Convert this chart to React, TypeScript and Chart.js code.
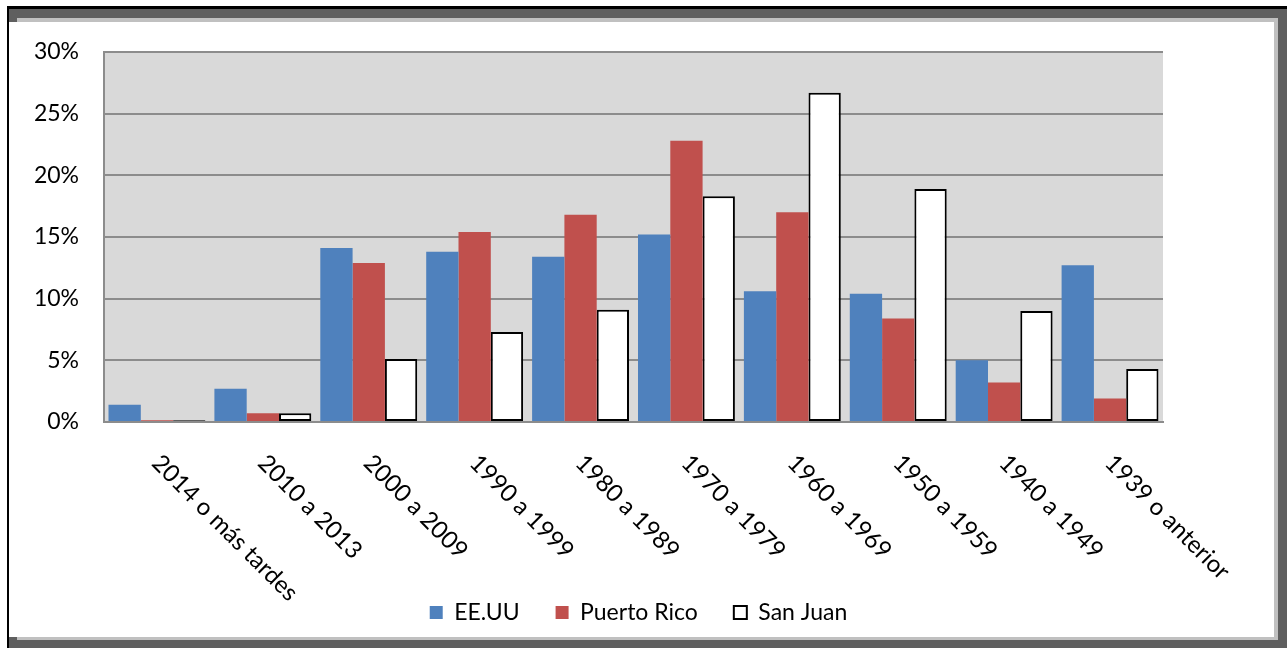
import React, { useEffect, useRef } from "react";
import { Chart, registerables } from "chart.js";

Chart.register(...registerables);

const categories = [
  "2014 o más tardes",
  "2010 a 2013",
  "2000 a 2009",
  "1990 a 1999",
  "1980 a 1989",
  "1970 a 1979",
  "1960 a 1969",
  "1950 a 1959",
  "1940 a 1949",
  "1939 o anterior",
];
const eeuu = [1.4, 2.7, 14.1, 13.8, 13.4, 15.2, 10.6, 10.4, 5.0, 12.7];
const puertoRico = [0.15, 0.7, 12.9, 15.4, 16.8, 22.8, 17.0, 8.4, 3.2, 1.9];
const sanJuan = [0.15, 0.7, 5.1, 7.3, 9.1, 18.3, 26.7, 18.9, 9.0, 4.3];
const seriesNames = ["EE.UU", "Puerto Rico", "San Juan"];

const FONT = "Lato, 'Open Sans', sans-serif";
const FS = 23;
const FS_X = 24;

const plotBg = {
  id: "plotBg",
  beforeDraw(chart: any) {
    const { ctx, chartArea } = chart;
    ctx.save();
    ctx.fillStyle = "#d9d9d9";
    ctx.fillRect(chartArea.left, chartArea.top, chartArea.right - chartArea.left, chartArea.bottom - chartArea.top);
    ctx.restore();
  },
};

const rotatedLabels = {
  id: "rotatedLabels",
  afterDraw(chart: any) {
    const { ctx } = chart;
    const xs = chart.scales.x;
    const base = chart.chartArea.bottom;
    ctx.save();
    ctx.fillStyle = "#000";
    ctx.font = `${FS_X}px ${FONT}`;
    ctx.textAlign = "left";
    ctx.textBaseline = "middle";
    categories.forEach((c, i) => {
      const x = xs.getPixelForTick(i);
      ctx.save();
      ctx.translate(x - 1, base + 37);
      ctx.rotate(Math.PI / 4);
      ctx.fillText(c, 0, 0);
      ctx.restore();
    });
    ctx.restore();
  },
};

function ChartView() {
  const ref = useRef<HTMLCanvasElement | null>(null);
  useEffect(() => {
    if (!ref.current) return;
    const chart = new Chart(ref.current, {
      type: "bar",
      data: {
        labels: categories,
        datasets: [
          {
            label: seriesNames[0],
            data: eeuu,
            backgroundColor: "#4f81bd",
            borderWidth: 0,
          },
          {
            label: seriesNames[1],
            data: puertoRico,
            backgroundColor: "#c0504d",
            borderWidth: 0,
          },
          {
            label: seriesNames[2],
            data: sanJuan,
            backgroundColor: "#ffffff",
            borderColor: "#000000",
            borderWidth: 2,
            borderSkipped: false,
          },
        ],
      },
      options: {
        animation: false,
        responsive: false,
        maintainAspectRatio: false,
        datasets: { bar: { categoryPercentage: 0.915, barPercentage: 1.0 } },
        layout: { padding: { top: 52, right: 10, left: 0, bottom: 14 } },
        plugins: {
          tooltip: { enabled: false },
          legend: {
            position: "bottom",
            labels: {
              boxWidth: 13,
              boxHeight: 13,
              padding: 36,
              color: "#000",
              font: { family: FONT, size: FS },
            },
          },
        },
        scales: {
          x: {
            grid: { display: false },
            border: { display: true, color: "#8c8c8c", width: 2 },
            ticks: { display: false },
            afterFit(s: any) {
              s.height = 143;
            },
          },
          y: {
            min: 0,
            max: 30,
            ticks: {
              stepSize: 5,
              padding: 25,
              color: "#000",
              font: { family: FONT, size: FS },
              callback: (v: any) => `${v}%`,
            },
            grid: { color: "#8c8c8c", lineWidth: 2, drawTicks: false },
            border: { display: true, color: "#8c8c8c", width: 2 },
            afterFit(s: any) {
              s.width = 104;
            },
          },
          ySpacer: {
            position: "right",
            display: true,
            min: 0,
            max: 30,
            ticks: { display: false },
            grid: { display: false, drawTicks: false },
            border: { display: false },
            afterFit(s: any) {
              s.width = 114;
            },
          },
        },
      },
      plugins: [plotBg, rotatedLabels],
    });
    return () => chart.destroy();
  }, []);
  return <canvas ref={ref} width={1287} height={648} style={{ position: "absolute", left: 0, top: 0 }} />;
}

export default function App() {
  return (
    <div style={{ position: "fixed", left: 0, top: 0, width: 1287, height: 648, background: "#ffffff", overflow: "hidden" }}>
      <div style={{ position: "absolute", left: 7, top: 6, width: 1280, height: 642, background: "#000" }} />
      <div style={{ position: "absolute", left: 9, top: 9, width: 1278, height: 639, background: "#5f5f5f" }} />
      <div style={{ position: "absolute", left: 17, top: 18, width: 1261, height: 622, background: "#c0c0c0" }} />
      <div style={{ position: "absolute", left: 9, top: 22, width: 1265, height: 615, background: "#ffffff" }} />
      <ChartView />
    </div>
  );
}
